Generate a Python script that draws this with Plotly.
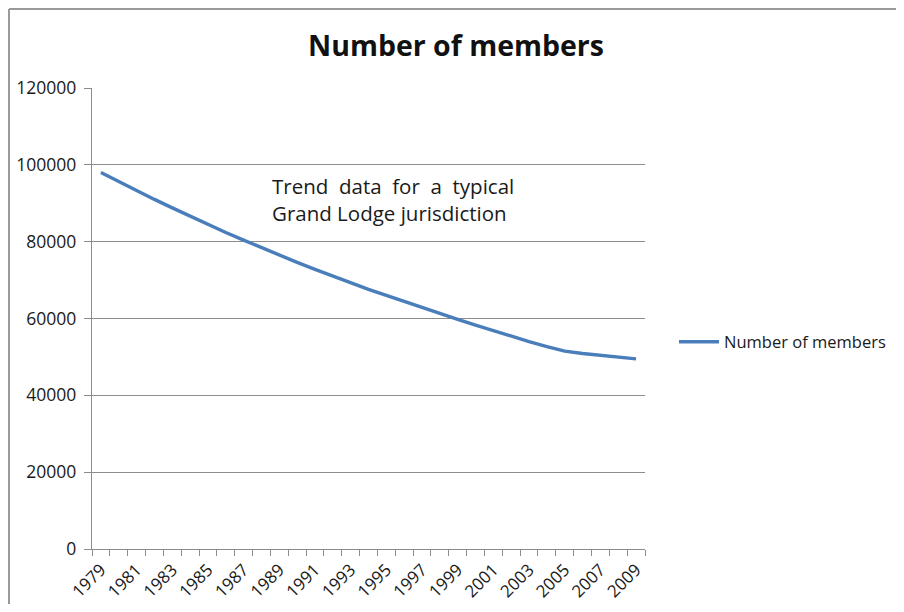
import plotly.graph_objects as go

years = list(range(1979, 2010))
members = [98000, 95600, 93300, 91000, 88800, 86600, 84500, 82400, 80400, 78400,
           76500, 74600, 72800, 71000, 69300, 67600, 66000, 64400, 62800, 61300,
           59800, 58300, 56800, 55400, 54000, 52700, 51500, 50900, 50400, 49900, 49500]
x_labels = [str(y) for y in years[::2]]
y_ticks = [0, 20000, 40000, 60000, 80000, 100000, 120000]

# page has an 8px body margin; figure sized to avoid scrollbars
OFF = 8
W, H = 888, 596
L, T = 92 - OFF, 88 - OFF
R = W - (645 - OFF)
B = H - (549 - OFF)
pw, ph = W - L - R, H - T - B

def px(x):
    return (x - OFF - L) / pw

def py(y):
    return (H - B - (y - OFF)) / ph

def cx(x):
    return (x - OFF) / W

def cy(y):
    return 1 - (y - OFF) / H

FONT = "Open Sans"
GRID = "#8c8c8c"
TXT = "#1a1a1a"
BORDER = "#9a9a9a"

fig = go.Figure()
fig.add_trace(go.Scatter(
    x=years, y=members, mode="lines", name="Number of members",
    line=dict(color="#4a7ebb", width=3.4),
))

fig.update_layout(
    width=W, height=H,
    margin=dict(l=L, r=R, t=T, b=B, autoexpand=False),
    paper_bgcolor="white", plot_bgcolor="white",
    font=dict(family=FONT, color=TXT),
    showlegend=True,
    legend=dict(xref="container", yref="container",
                x=cx(674), y=cy(342), xanchor="left", yanchor="middle",
                font=dict(family=FONT, size=16.5, color=TXT),
                itemwidth=40, bgcolor="rgba(0,0,0,0)"),
    xaxis=dict(
        range=[1978.5, 2009.5],
        tickmode="array", tickvals=years[::2], ticktext=x_labels,
        tickangle=-45, ticks="", showgrid=False,
        showline=True, linecolor=GRID, linewidth=1.3,
        tickfont=dict(family=FONT, size=17, color=TXT),
        ticklabelstandoff=3,
        minor=dict(tickmode="array", tickvals=[y - 0.5 for y in years] + [2009.5],
                   ticks="outside", ticklen=6, tickcolor=GRID, tickwidth=1.3,
                   showgrid=False),
        zeroline=False, fixedrange=True, automargin=False,
    ),
    yaxis=dict(
        range=[0, 120000], tickmode="array", tickvals=y_ticks,
        ticktext=[str(v) for v in y_ticks],
        ticks="outside", ticklen=7, tickcolor=GRID, tickwidth=1.3,
        showgrid=True, gridcolor=GRID, gridwidth=1.3,
        showline=True, linecolor=GRID, linewidth=1.3,
        tickfont=dict(family=FONT, size=17.5, color=TXT),
        ticklabelstandoff=4,
        zeroline=False, fixedrange=True, automargin=False,
    ),
    annotations=[
        dict(text="<b>Number of members</b>", xref="paper", yref="paper",
             x=px(456), y=py(45), xanchor="center", yanchor="middle",
             showarrow=False, font=dict(family=FONT, size=28.5, color="#111111")),
        dict(text="Trend  data  for  a  typical<br>Grand Lodge jurisdiction",
             xref="paper", yref="paper", x=px(270), y=py(170),
             xanchor="left", yanchor="top", align="left", showarrow=False,
             font=dict(family=FONT, size=20.5, color=TXT)),
    ],
    shapes=[
        dict(type="line", xref="paper", yref="paper",
             x0=px(9), x1=px(904), y0=py(9), y1=py(9),
             line=dict(color=BORDER, width=2), layer="below"),
        dict(type="line", xref="paper", yref="paper",
             x0=px(9), x1=px(9), y0=py(9), y1=py(612),
             line=dict(color=BORDER, width=2), layer="below"),
    ],
)

fig.write_html("out.html")
